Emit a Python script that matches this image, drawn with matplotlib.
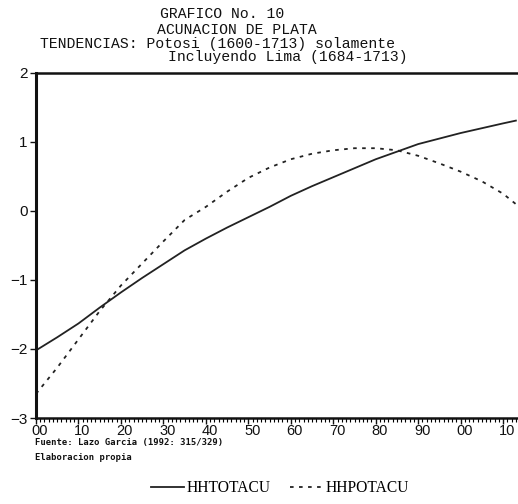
import matplotlib
matplotlib.use("Agg")
import matplotlib.pyplot as plt
from matplotlib.ticker import MultipleLocator, FuncFormatter
from matplotlib.transforms import ScaledTranslation

years = [1600, 1605, 1610, 1615, 1620, 1625, 1630, 1635, 1640, 1645, 1650,
         1655, 1660, 1665, 1670, 1675, 1680, 1685, 1690, 1695, 1700, 1705,
         1710, 1713]
hhtotacu = [-2.02, -1.83, -1.63, -1.40, -1.18, -0.97, -0.77, -0.57, -0.40,
            -0.24, -0.09, 0.06, 0.22, 0.36, 0.49, 0.62, 0.75, 0.86, 0.97,
            1.05, 1.13, 1.20, 1.27, 1.31]
hhpotacu = [-2.65, -2.27, -1.86, -1.45, -1.08, -0.76, -0.44, -0.13, 0.06,
            0.28, 0.48, 0.63, 0.75, 0.83, 0.88, 0.91, 0.91, 0.88, 0.80,
            0.69, 0.57, 0.43, 0.25, 0.10]
series_names = ["HHTOTACU", "HHPOTACU"]
title_lines = ["GRAFICO No. 10",
               "ACUNACION DE PLATA",
               "TENDENCIAS: Potosi (1600-1713) solamente",
               "Incluyendo Lima (1684-1713)"]
source_lines = ["Fuente: Lazo Garcia (1992: 315/329)", "Elaboracion propia"]

fig = plt.figure(figsize=(5.18, 5.04), dpi=100)
ax = fig.add_axes([36 / 518, 86 / 504, 1 - 36 / 518, 345 / 504])

ax.plot(years, hhtotacu, color="#222222", lw=1.3, ls="-", label=series_names[0])
ax.plot(years, hhpotacu, color="#222222", lw=1.3, ls=(0, (2, 3)), label=series_names[1])

ax.set_xlim(1600, 1713.5)
ax.set_ylim(-3, 2)
ax.yaxis.set_major_locator(MultipleLocator(1))
ax.xaxis.set_major_locator(MultipleLocator(10))
ax.xaxis.set_minor_locator(MultipleLocator(1))
ax.xaxis.set_major_formatter(FuncFormatter(lambda v, p: "%02d" % (int(round(v)) % 100)))
ax.yaxis.set_major_formatter(FuncFormatter(lambda v, p: ("\u2212%d" % abs(v)) if v < 0 else "%d" % v))

ax.spines["right"].set_visible(False)
ax.spines["left"].set_linewidth(2.2)
ax.spines["top"].set_linewidth(1.8)
ax.spines["bottom"].set_linewidth(1.8)
for s in ("left", "top", "bottom"):
    ax.spines[s].set_color("#111111")

ax.tick_params(axis="x", which="major", direction="out", length=4.5, width=1.0,
               labelsize=10.5, pad=0, colors="#111111")
ax.tick_params(axis="x", which="minor", direction="out", length=3, width=0.8)
ax.tick_params(axis="y", which="major", direction="out", length=4, width=1.0,
               labelsize=11, pad=2, colors="#111111")
shift = ScaledTranslation(4 / 100, 0, fig.dpi_scale_trans)
for lab in ax.get_xticklabels():
    lab.set_fontfamily("Liberation Sans")
    lab.set_transform(lab.get_transform() + shift)
for lab in ax.get_yticklabels():
    lab.set_fontfamily("Liberation Sans")

# title
mono = "Liberation Mono"
tsize = 10.6
fig.text(222 / 518, 1 - 14 / 504, title_lines[0], ha="center", va="center",
         family=mono, fontsize=tsize, color="#111111")
fig.text(237 / 518, 1 - 30 / 504, title_lines[1], ha="center", va="center",
         family=mono, fontsize=tsize, color="#111111")
fig.text(40 / 518, 1 - 44 / 504, title_lines[2], ha="left", va="center",
         family=mono, fontsize=tsize, color="#111111")
fig.text(168 / 518, 1 - 57 / 504, title_lines[3], ha="left", va="center",
         family=mono, fontsize=tsize, color="#111111")

# source notes
fig.text(35 / 518, 1 - 442 / 504, source_lines[0], ha="left", va="center",
         family="DejaVu Sans Mono", fontsize=6.4, fontweight="bold", color="#111111")
fig.text(35 / 518, 1 - 458 / 504, source_lines[1], ha="left", va="center",
         family="DejaVu Sans Mono", fontsize=6.4, fontweight="bold", color="#111111")

# legend
handles, labels = ax.get_legend_handles_labels()
fig.legend(handles, labels, loc="center", bbox_to_anchor=(280 / 518, 1 - 488 / 504),
           ncol=2, frameon=False, handlelength=2.1, handletextpad=0.2,
           columnspacing=1.2, prop={"family": "Liberation Serif", "size": 11.2})

fig.savefig("out.png", dpi=100)
